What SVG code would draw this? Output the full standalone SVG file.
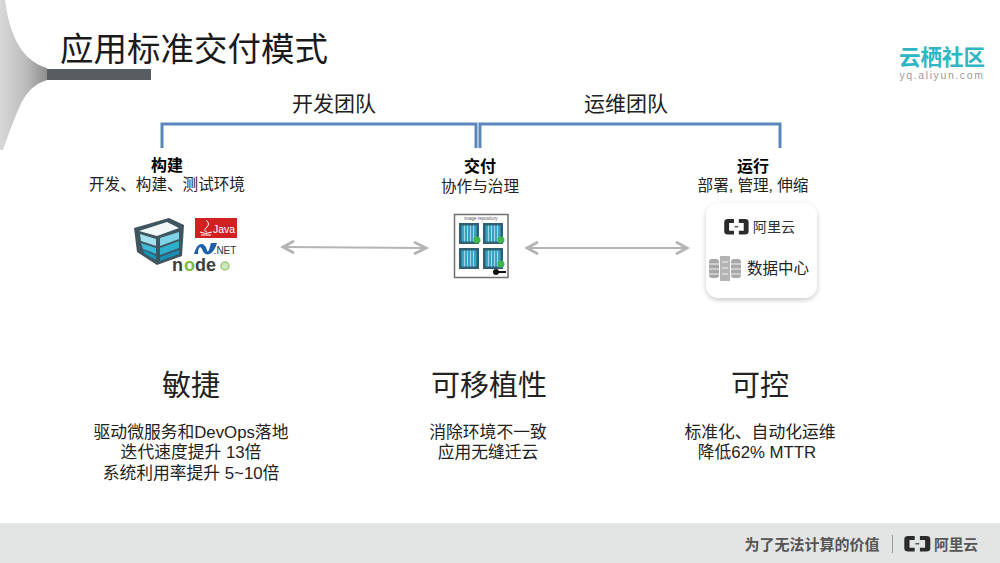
<svg xmlns="http://www.w3.org/2000/svg" width="1000" height="563" viewBox="0 0 1000 563">
<style>
text{font-family:"Liberation Sans","Noto Sans CJK SC",sans-serif;fill:#222;text-anchor:middle}
.sub{font-size:15.600px}
.bold{font-size:16px;font-weight:700;fill:#000}
.team{font-size:21px}
.big{font-size:29px}
.body{font-size:16.800px}
.bracket{fill:none;stroke:#5b87bd;stroke-width:3}
.arrow{fill:none;stroke:#b4b4b4;stroke-width:1.800}
.head{fill:none;stroke:#b4b4b4;stroke-width:2.800}
.crate{fill:#2f5f73}
.inner{fill:#35a5c8}
.bar{stroke:#cfeaf2;stroke-width:.7}
.stripe{stroke:#f2f2f2;stroke-width:1;fill:none}
.nd{font-size:18px;font-weight:700;fill:#3f3f3f;text-anchor:start}
</style>
<defs>
<linearGradient id="sw" x1="0" y1="0" x2="1" y2="0"><stop offset="0" stop-color="#d8d8d8"/><stop offset=".55" stop-color="#bcbcbc"/><stop offset="1" stop-color="#8d8d8d"/></linearGradient>
<filter id="shadow" x="-20%" y="-20%" width="140%" height="140%"><feDropShadow dx="0" dy="2" stdDeviation="2.500" flood-color="#000" flood-opacity=".22"/></filter>
<g id="logo"><path d="M9 1H4Q1 1 1 4V12Q1 15 4 15H9V11.500H5V4.500H9ZM13 1H18Q21 1 21 4V12Q21 15 18 15H13V11.500H17V4.500H13Z" fill="#2b2b2b"/><rect x="9.500" y="7.500" width="3" height="1" fill="#2b2b2b"/></g>
<g id="crate"><rect width="20" height="21" class="crate"/><rect x="2.500" y="2.500" width="15" height="16" class="inner"/><path class="bar" d="M5.500 2.500V18.500M8.500 2.500V18.500M11.500 2.500V18.500M14.500 2.500V18.500"/></g>
</defs>

<g id="header">
<path d="M0 0H5C9 30 19 60 47 68V80C34 84 26 92 19 108C13 122 7 138 3 150H0Z" fill="url(#sw)"/>
<rect x="47" y="69" width="104" height="11" fill="#595c60"/>
<text x="194" y="61" style="font-size:33.500px;fill:#1a1a1a">应用标准交付模式</text>
</g>

<g id="brand">
<text x="942" y="65" style="font-size:21.500px;font-weight:700;fill:#2fb5c4">云栖社区</text>
<text x="942" y="79" style="font-size:10.500px;letter-spacing:1.600px;fill:#9a9a9a">yq.aliyun.com</text>
</g>

<g id="connectors">
<path class="bracket" d="M162 148V124H476V148"/>
<path class="bracket" d="M480 148V124H780V148"/>
<path class="arrow" d="M283 247L425 248"/>
<path class="head" d="M294 241L283 247L294 253M414 242L426 248L414 254"/>
<path class="arrow" d="M528 248L686 248"/>
<path class="head" d="M538 242L527 248L538 254M676 242L687 248L676 254"/>
</g>

<g id="team-dev"><text class="team" x="334" y="111">开发团队</text></g>
<g id="team-ops"><text class="team" x="626" y="111">运维团队</text></g>

<g id="node-build">
<text class="bold" x="167" y="171">构建</text>
<text class="sub" x="167" y="190">开发、构建、测试环境</text>
<path d="M134 228L169 218L184 225L182 256L157 265L137 252Z" fill="#3f5560"/>
<path d="M139 231L167 222L179 228L157 236Z" fill="#f2f7f8"/>
<path d="M140 234L156 239V246L141 241Z" fill="#a5e0ee"/>
<path d="M141 243L156 248V254L143 249Z" fill="#3db8d8"/>
<path d="M143 250L156 256V260L145 254Z" fill="#1796bd"/>
<path d="M160 238L179 232V239L160 246Z" fill="#7fd3e6"/>
<path d="M160 248L179 241V248L160 255Z" fill="#2fafd0"/>
<path d="M160 257L179 250V254L160 261Z" fill="#1690b5"/>
<rect x="195" y="218" width="42" height="20" fill="#d0201f"/>
<text x="224" y="233" style="font-size:10.500px;fill:#fff">Java</text>
<path d="M206 220Q211 224 206 228Q203 231 207 232M200 232Q205 235 212 232M201 235H211" fill="none" stroke="#fff" stroke-width="1"/>
<path d="M194 254C198 240 205 243 207 250C208 254 209 250 211 243H217C213 257 204 257 202 249C200 245 198 248 198 254Z" fill="#1d5fa8"/>
<text x="225" y="254" style="font-size:10px;fill:#333">.NET</text>
<text class="nd" x="172" y="271">n</text>
<text class="nd" x="184" y="271" style="fill:#7dbb42">o</text>
<text class="nd" x="195" y="271">d</text>
<text class="nd" x="206" y="271">e</text>
<circle cx="225" cy="266" r="4" fill="#cfe6bd" stroke="#9ccb7a" stroke-width="1.500"/>
</g>

<g id="node-delivery">
<text class="bold" x="480" y="172">交付</text>
<text class="sub" x="480" y="192">协作与治理</text>
<rect x="454.500" y="214.500" width="53.500" height="63" fill="#fff" stroke="#6f6f6f" stroke-width="1.500"/>
<text x="481" y="220" style="font-size:4.500px;fill:#555">image repository</text>
<use href="#crate" x="459" y="223"/><use href="#crate" x="483" y="223"/><use href="#crate" x="459" y="248"/><use href="#crate" x="483" y="248"/>
<circle cx="477" cy="240" r="3.500" fill="#3fb54a"/><circle cx="501" cy="240" r="3.500" fill="#3fb54a"/><circle cx="501" cy="264" r="3.500" fill="#3fb54a"/>
<circle cx="496" cy="272" r="3" fill="#111"/><rect x="498" y="271" width="8" height="2" fill="#111"/>
</g>

<g id="node-run">
<text class="bold" x="753" y="172">运行</text>
<text class="sub" x="753" y="191">部署, 管理, 伸缩</text>
<rect x="706" y="203" width="111" height="95" rx="13" fill="#fff" filter="url(#shadow)"/>
<use href="#logo" transform="translate(723 218) scale(1.220 1.100)"/>
<text x="774" y="232" style="font-size:14.200px;fill:#333">阿里云</text>
<rect x="709" y="259" width="10" height="19" rx="3" fill="#a8a8a8"/><rect x="720" y="256" width="10" height="25" fill="#b4b4b4"/><rect x="731" y="259" width="10" height="19" rx="3" fill="#a8a8a8"/>
<path class="stripe" d="M709 264H719M709 269H719M709 274H719M722 262H728M722 268H728M722 274H728M731 264H741M731 269H741M731 274H741"/>
<text x="778" y="274" style="font-size:15.500px;fill:#222">数据中心</text>
</g>

<g id="value-agile">
<text class="big" x="191" y="396">敏捷</text>
<text class="body" x="191" y="438">驱动微服务和DevOps落地</text>
<text class="body" x="191" y="458">迭代速度提升 13倍</text>
<text class="body" x="191" y="479">系统利用率提升 5~10倍</text>
</g>
<g id="value-portable">
<text class="big" x="489" y="396">可移植性</text>
<text class="body" x="488" y="438">消除环境不一致</text>
<text class="body" x="488" y="458">应用无缝迁云</text>
</g>
<g id="value-control">
<text class="big" x="760" y="396">可控</text>
<text class="body" x="760" y="438">标准化、自动化运维</text>
<text class="body" x="757" y="458">降低62% MTTR</text>
</g>

<g id="footer">
<rect x="0" y="523" width="1000" height="40" fill="#e3e4e4"/>
<text x="812" y="550" style="font-size:15px;font-weight:700;fill:#555">为了无法计算的价值</text>
<rect x="892" y="535" width="1" height="18" fill="#9a9a9a"/>
<use href="#logo" transform="translate(903 535) scale(1.300 1.100)"/>
<text x="956" y="550" style="font-size:14.700px;font-weight:700;fill:#555">阿里云</text>
</g>
</svg>
